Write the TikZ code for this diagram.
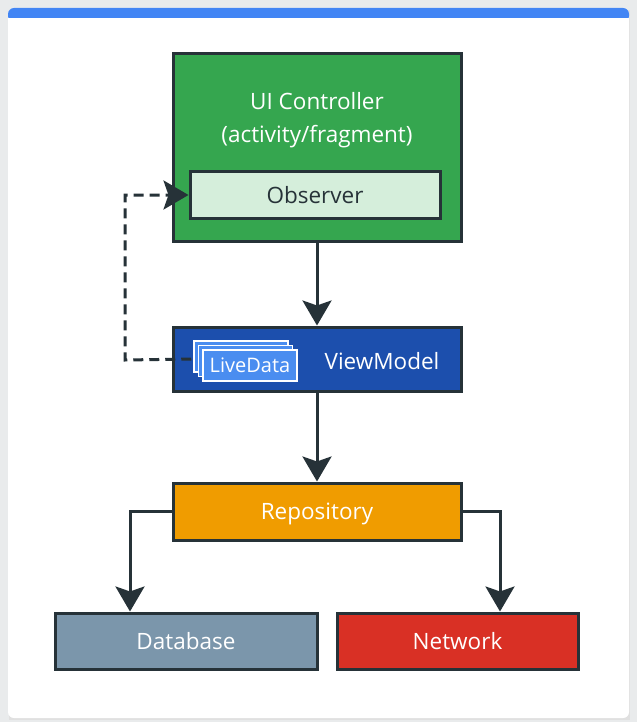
\documentclass[tikz,border=0pt]{standalone}
\usepackage{fontspec}
\setmainfont{Open Sans}
\usetikzlibrary{arrows.meta}
\definecolor{bgout}{HTML}{E9EBEC}
\definecolor{topbar}{HTML}{4285F4}
\definecolor{edge}{HTML}{263238}
\definecolor{ctrl}{HTML}{35A64F}
\definecolor{obs}{HTML}{D5EEDB}
\definecolor{vm}{HTML}{1C4FAD}
\definecolor{ld}{HTML}{4A8DF0}
\definecolor{repo}{HTML}{F09C00}
\definecolor{db}{HTML}{7B96AB}
\definecolor{net}{HTML}{D93025}
\tikzset{
  blk/.style={draw=edge, line width=3pt, rectangle, inner sep=0pt},
  lbl/.style={font=\fontsize{22.5}{27}\selectfont, inner sep=0pt, text height=16pt, text depth=0pt},
  ldbox/.style={draw=white, line width=1.5pt, fill=ld, rectangle, inner sep=0pt, minimum width=94pt, minimum height=31pt},
  conn/.style={draw=edge, line width=3pt, -{Stealth[width=29pt,length=25pt,inset=5pt]}},
}
\begin{document}
\begin{tikzpicture}[x=1pt,y=-1pt]
\useasboundingbox (0,0) rectangle (637,722);
\fill[bgout] (0,0) rectangle (637,722);
% card
\fill[black!12] (9,10) rectangle (630,720);
\fill[white, rounded corners=6pt] (8,8) rectangle (629,718);
\fill[topbar, rounded corners=6pt] (8,8) rectangle (629,22);
\fill[white] (8,18) rectangle (629,24);
% boxes
\node[blk, fill=ctrl, minimum width=288pt, minimum height=187pt] (ctl) at (317,147.5) {};
\node[lbl, text=white] (ctlt1) at (317,102) {UI Controller};
\node[lbl, text=white] (ctlt2) at (317,135) {(activity/fragment)};
\node[blk, fill=obs, minimum width=250pt, minimum height=47pt, lbl, text=edge, line width=3pt] (obs) at (315,195) {Observer};
\node[blk, fill=vm, minimum width=288pt, minimum height=64pt] (vm) at (317,359) {};
\node[lbl, text=white] (vmt) at (382,361) {ViewModel};
\node[ldbox] (ld3) at (241,356.5) {};
\node[ldbox] (ld2) at (245.5,361) {};
\node[ldbox, font=\fontsize{20}{24}\selectfont, text=white, text height=14.3pt, text depth=0pt] (ld1) at (250,365.5) {LiveData};
\node[blk, fill=repo, minimum width=288pt, minimum height=57pt, lbl, text=white, line width=3pt] (repo) at (317,511.5) {Repository};
\node[blk, fill=db, minimum width=262pt, minimum height=56pt, lbl, text=white, line width=3pt] (db) at (186,641) {Database};
\node[blk, fill=net, minimum width=241pt, minimum height=56pt, lbl, text=white, line width=3pt] (net) at (457.5,641) {Network};
% connectors
\draw[conn] (ctl.south) -- (vm.north);
\draw[conn] (vm.south) -- (repo.north);
\draw[conn] (repo.west) -| ([xshift=-56pt]db.north);
\draw[conn] (repo.east) -| ([xshift=42.5pt]net.north);
\draw[conn, dash pattern=on 10pt off 6pt] ([xshift=-2pt]ld3.west |- vm.center) -- (125,360) -- (125,195) -- (obs.west);
\end{tikzpicture}
\end{document}
